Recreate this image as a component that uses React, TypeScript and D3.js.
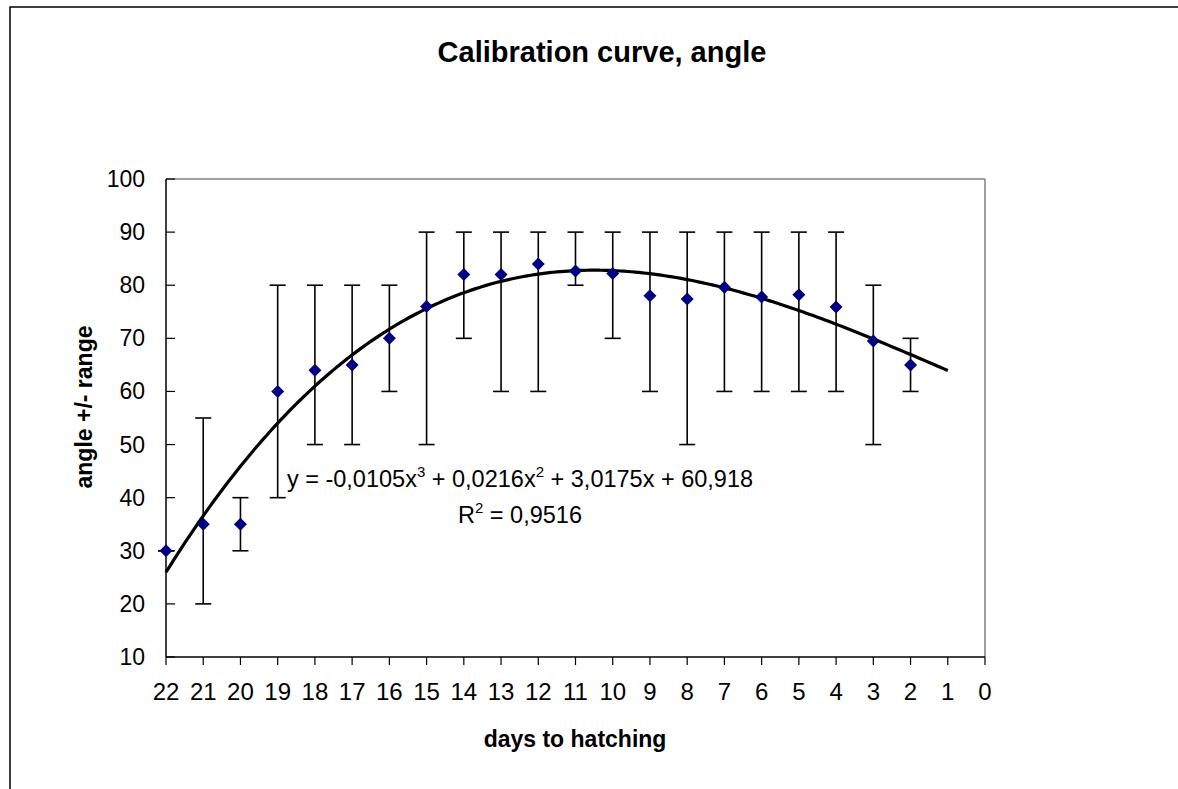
import React from "react";
import * as d3 from "d3";

const days = [22, 21, 20, 19, 18, 17, 16, 15, 14, 13, 12, 11, 10, 9, 8, 7, 6, 5, 4, 3, 2];
const angle = [30, 35, 35, 60, 64, 65, 70, 76, 82, 82, 84, 82.7, 82.2, 78, 77.4, 79.6, 77.8, 78.2, 75.9, 69.5, 65];
const rangeLow = [30, 20, 30, 40, 50, 50, 60, 50, 70, 60, 60, 80, 70, 60, 50, 60, 60, 60, 60, 50, 60];
const rangeHigh = [30, 55, 40, 80, 80, 80, 80, 90, 90, 90, 90, 90, 90, 90, 90, 90, 90, 90, 90, 80, 70];
const xTicks = d3.range(0, 23);
const yTicks = [10, 20, 30, 40, 50, 60, 70, 80, 90, 100];
// trendline y = a x^3 + b x^2 + c x + d (from the chart's label)
const trendCoef = [-0.0105, 0.0216, 3.0175, 60.918];
const trendFrom = 22;
const trendTo = 1;

const W = 1178;
const H = 789;
const L = 166, R = 985, T = 179, B = 657;
const FONT = "'Liberation Sans', Arial, sans-serif";

export default function App() {
  const x = d3.scaleLinear().domain([22, 0]).range([L, R]);
  const y = d3.scaleLinear().domain([10, 100]).range([B, T]);
  const trend = (v: number) =>
    trendCoef[0] * v * v * v + trendCoef[1] * v * v + trendCoef[2] * v + trendCoef[3];
  const tx = d3.range(trendFrom, trendTo - 0.001, -0.1);
  const line = d3
    .line<number>()
    .x((d) => x(d))
    .y((d) => y(trend(d)))
    .curve(d3.curveLinear);
  const capHalf = 8;
  const dm = 6.5;

  return (
    <svg
      width={W}
      height={H}
      style={{ position: "absolute", left: 0, top: 0, background: "#fff" }}
      fontFamily={FONT}
    >
      <rect x={0} y={0} width={W} height={H} fill="#fff" />
      {/* chart area border */}
      <rect x={10} y={7} width={1200} height={820} fill="none" stroke="#000" strokeWidth={1.5} />
      {/* title */}
      <text x={602} y={62} textAnchor="middle" fontSize={29} fontWeight="bold">
        Calibration curve, angle
      </text>
      {/* plot area frame */}
      <line x1={L} y1={T} x2={R} y2={T} stroke="#808080" strokeWidth={1.5} />
      <line x1={R} y1={T} x2={R} y2={B} stroke="#808080" strokeWidth={1.5} />
      {/* y axis */}
      <line x1={L} y1={T} x2={L} y2={B} stroke="#000" strokeWidth={1.5} />
      {yTicks.map((t) => (
        <g key={"y" + t}>
          <line x1={L} y1={y(t)} x2={L + 9} y2={y(t)} stroke="#000" strokeWidth={1.2} />
          <text x={145} y={y(t) + 8} textAnchor="end" fontSize={23}>
            {t}
          </text>
        </g>
      ))}
      {/* x axis */}
      <line x1={L} y1={B} x2={R} y2={B} stroke="#000" strokeWidth={1.5} />
      {xTicks.map((t) => (
        <g key={"x" + t}>
          <line x1={x(t)} y1={B} x2={x(t)} y2={B + 8} stroke="#000" strokeWidth={1.2} />
          <text x={x(t)} y={700} textAnchor="middle" fontSize={24}>
            {t}
          </text>
        </g>
      ))}
      {/* axis titles */}
      <text x={575} y={747} textAnchor="middle" fontSize={23} fontWeight="bold">
        days to hatching
      </text>
      <text
        transform={`translate(92,${407}) rotate(-90)`}
        textAnchor="middle"
        fontSize={23}
        fontWeight="bold"
      >
        angle +/- range
      </text>
      {/* error bars */}
      {days.map((d, i) => (
        <g key={"e" + d} stroke="#000" strokeWidth={1.6}>
          <line x1={x(d)} y1={y(rangeLow[i])} x2={x(d)} y2={y(rangeHigh[i])} />
          <line x1={x(d) - capHalf} y1={y(rangeLow[i])} x2={x(d) + capHalf} y2={y(rangeLow[i])} />
          <line x1={x(d) - capHalf} y1={y(rangeHigh[i])} x2={x(d) + capHalf} y2={y(rangeHigh[i])} />
        </g>
      ))}
      {/* trendline */}
      <path d={line(tx) || ""} fill="none" stroke="#000" strokeWidth={3.2} strokeLinejoin="round" />
      {/* markers */}
      {days.map((d, i) => {
        const cx = x(d);
        const cy = y(angle[i]);
        return (
          <path
            key={"m" + d}
            d={`M${cx},${cy - dm}L${cx + dm},${cy}L${cx},${cy + dm}L${cx - dm},${cy}Z`}
            fill="#000080"
          />
        );
      })}
      {/* equation */}
      <text x={520} y={487} textAnchor="middle" fontSize={23.5}>
        <tspan>y = -0,0105x</tspan>
        <tspan fontSize={15} dy={-10}>3</tspan>
        <tspan dy={10}> + 0,0216x</tspan>
        <tspan fontSize={15} dy={-10}>2</tspan>
        <tspan dy={10}> + 3,0175x + 60,918</tspan>
      </text>
      <text x={520} y={523} textAnchor="middle" fontSize={23.5}>
        <tspan>R</tspan>
        <tspan fontSize={15} dy={-10}>2</tspan>
        <tspan dy={10}> = 0,9516</tspan>
      </text>
    </svg>
  );
}
